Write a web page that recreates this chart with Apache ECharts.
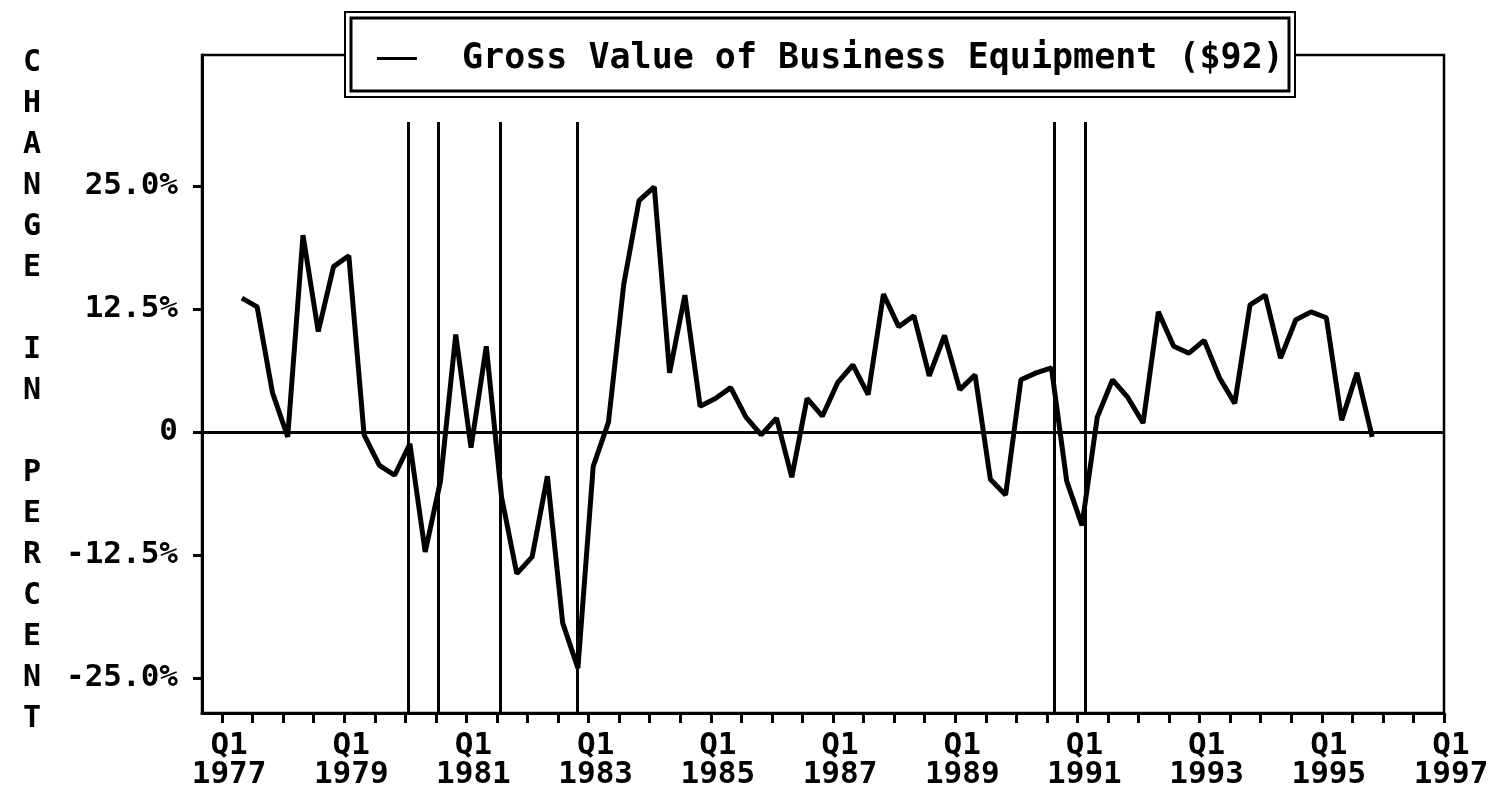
<!DOCTYPE html>
<html>
<head>
<meta charset="utf-8">
<script src="https://cdn.jsdelivr.net/npm/echarts@6/dist/echarts.min.js"></script>
<style>
  html, body { margin: 0; padding: 0; background: #fff; }
  #chart { width: 1492px; height: 810px; }
</style>
</head>
<body>
<div id="chart"></div>
<script>
// quarterly % change, first point just after Q1 1977
const quarterlyChange = [
  13.6, 12.7, 4.0, -0.5, 20.0, 10.2, 16.8, 17.9, -0.3, -3.4,
  -4.4, -1.2, -12.2, -5.0, 9.9, -1.6, 8.7, -6.6, -14.4, -12.7,
  -4.5, -19.4, -24.0, -3.5, 1.0, 15.0, 23.5, 24.9, 6.0, 13.9,
  2.6, 3.4, 4.5, 1.5, -0.3, 1.4, -4.6, 3.4, 1.6, 5.0,
  6.8, 3.8, 14.0, 10.7, 11.8, 5.7, 9.8, 4.3, 5.8, -4.8,
  -6.4, 5.3, 6.0, 6.5, -5.0, -9.5, 1.5, 5.3, 3.5, 0.9,
  12.2, 8.7, 8.0, 9.3, 5.5, 2.9, 12.9, 13.9, 7.5, 11.4,
  12.2, 11.6, 1.2, 6.0, -0.5
];
const firstPeriod = 1977.325; // in years
const periodStep = 0.25;

// recession start / end markers (years)
const recessionLines = [1980.04, 1980.54, 1981.56, 1982.82, 1990.62, 1991.13];
const recessionTop = 31.5;

const labelYears = [1977, 1979, 1981, 1983, 1985, 1987, 1989, 1991, 1993, 1995, 1997];
const tickYears = [];
for (let y = 1977; y <= 1997; y += 0.5) tickYears.push(y);
const yTicks = [-25, -12.5, 0, 12.5, 25];

const seriesName = "Gross Value of Business Equipment ($92)";
const axisTitle = ["C", "H", "A", "N", "G", "E", "", "I", "N", "", "P", "E", "R", "C", "E", "N", "T"];

const FONT = '"DejaVu Sans Mono", monospace';
const Y_MIN = -28.56;
const Y_MAX = 38.3;

const points = quarterlyChange.map((v, i) => [firstPeriod + i * periodStep, v]);

const chart = echarts.init(document.getElementById("chart"));

const lineStyleBlack = { color: "#000", width: 3, type: "solid" };

chart.setOption({
  animation: false,
  backgroundColor: "#fff",
  grid: {
    left: 202,
    right: 48,
    top: 55,
    bottom: 97,
    show: true,
    borderColor: "#000",
    borderWidth: 2.5,
  },
  legend: {
    left: 372,
    top: 36,
    z: 6,
    selectedMode: false,
    data: [seriesName],
    icon: "rect",
    itemWidth: 40,
    itemHeight: 3,
    textStyle: {
      fontFamily: FONT,
      fontWeight: "bold",
      fontSize: 35,
      color: "#000",
      padding: [0, 0, 0, 40],
    },
  },
  xAxis: {
    type: "value",
    min: 1976.672,
    max: 1997,
    axisLine: { onZero: false, lineStyle: lineStyleBlack },
    axisTick: {
      show: true,
      customValues: tickYears,
      length: 10,
      lineStyle: lineStyleBlack,
    },
    axisLabel: {
      customValues: labelYears,
      formatter: (v) => "Q1\n" + Math.round(v),
      fontFamily: FONT,
      fontWeight: "bold",
      fontSize: 31,
      lineHeight: 29,
      color: "#000",
      margin: 18,
      padding: [0, 0, 0, 14],
    },
    splitLine: { show: false },
  },
  yAxis: {
    type: "value",
    min: Y_MIN,
    max: Y_MAX,
    axisLine: { show: true, onZero: false, lineStyle: lineStyleBlack },
    axisTick: {
      show: true,
      customValues: yTicks,
      length: 9,
      lineStyle: lineStyleBlack,
    },
    axisLabel: {
      customValues: yTicks,
      formatter: (v) => (v === 0 ? "0" : v.toFixed(1) + "%"),
      fontFamily: FONT,
      fontWeight: "bold",
      fontSize: 31,
      color: "#000",
      margin: 24,
    },
    splitLine: { show: false },
  },
  graphic: [
    {
      type: "rect",
      z: 4,
      shape: { x: 345, y: 12, width: 950, height: 85 },
      style: { fill: "#fff", stroke: "#000", lineWidth: 2 },
    },
    {
      type: "rect",
      z: 5,
      shape: { x: 351, y: 18, width: 938, height: 73 },
      style: { fill: "none", stroke: "#000", lineWidth: 3 },
    },
    {
      type: "text",
      x: 32,
      y: 43,
      style: {
        text: axisTitle.join("\n"),
        font: "bold 30px " + FONT,
        lineHeight: 41,
        textAlign: "center",
        fill: "#000",
      },
    },
  ],
  series: [
    {
      name: seriesName,
      type: "line",
      data: points,
      symbol: "none",
      z: 3,
      lineStyle: { color: "#000", width: 5 },
      itemStyle: { color: "#000" },
      markLine: {
        silent: true,
        symbol: ["none", "none"],
        label: { show: false },
        lineStyle: lineStyleBlack,
        data: [
          { yAxis: 0 },
          ...recessionLines.map((x) => [
            { coord: [x, Y_MIN] },
            { coord: [x, recessionTop] },
          ]),
        ],
      },
    },
  ],
});
</script>
</body>
</html>
